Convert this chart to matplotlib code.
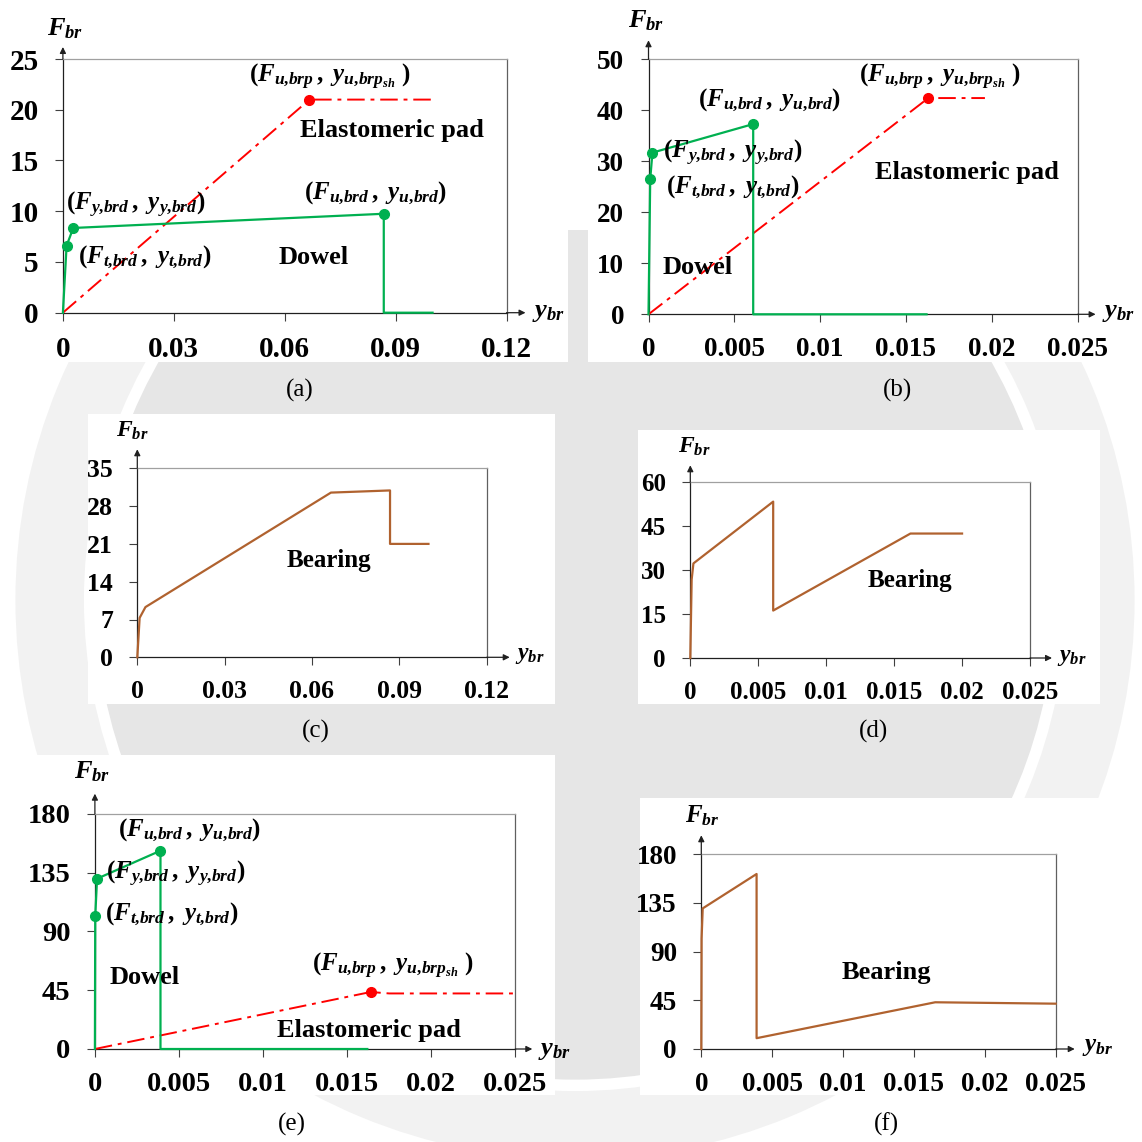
import matplotlib
matplotlib.use('Agg')
import matplotlib.pyplot as plt
from matplotlib.patches import Rectangle, Circle, Wedge
from matplotlib.transforms import offset_copy

plt.rcParams['font.family'] = 'Liberation Serif'
plt.rcParams['font.weight'] = 'bold'
plt.rcParams['mathtext.fontset'] = 'custom'
plt.rcParams['mathtext.rm'] = 'Liberation Serif:bold'
plt.rcParams['mathtext.it'] = 'Liberation Serif:italic:bold'
plt.rcParams['mathtext.bf'] = 'Liberation Serif:bold'

# ---- data ----
# (a) dowel / pad, (c) bearing = sum
dowel_a_x = [0, 0.001, 0.0028, 0.0868, 0.0868, 0.1]
dowel_a_y = [0, 6.6, 8.35, 9.75, 0, 0]
pad_a_x = [0, 0.0667, 0.1]
pad_a_y = [0, 21, 21]
bear_c_x = [0, 0.0008, 0.0028, 0.0665, 0.0868, 0.0868, 0.1]
bear_c_y = [0, 7.3, 9.3, 30.5, 30.9, 21, 21]

# (b) dowel / pad, (d) bearing
dowel_b_x = [0, 0.0001, 0.00023, 0.0061, 0.0061, 0.0162]
dowel_b_y = [0, 26.5, 31.7, 37.3, 0, 0]
pad_b_x = [0, 0.0163, 0.0196]
pad_b_y = [0, 42.4, 42.4]
bear_d_x = [0, 0.0001, 0.00023, 0.0061, 0.0061, 0.0162, 0.02]
bear_d_y = [0, 26.8, 32.3, 53.4, 16.2, 42.5, 42.5]

# (e) dowel / pad, (f) bearing
dowel_e_x = [0, 0.00002, 0.00013, 0.0039, 0.0039, 0.0162]
dowel_e_y = [0, 101.8, 130.3, 151.7, 0, 0]
pad_e_x = [0, 0.0164, 0.0175, 0.025]
pad_e_y = [0, 43.6, 42.5, 42.5]
bear_f_x = [0, 0.00002, 0.0001, 0.0039, 0.0039, 0.0165, 0.025]
bear_f_y = [0, 102, 130, 161.8, 10, 43.2, 41.9]

x_ticks_big = [0, 0.03, 0.06, 0.09, 0.12]
x_labels_big = ['0', '0.03', '0.06', '0.09', '0.12']
x_ticks_small = [0, 0.005, 0.01, 0.015, 0.02, 0.025]
x_labels_small = ['0', '0.005', '0.01', '0.015', '0.02', '0.025']

GREEN = '#00b050'
RED = '#ff0000'
BROWN = '#b0622f'
W = 1142


def fx(x):
    return x / W


def fy(y):
    return 1 - y / W


fig = plt.figure(figsize=(11.42, 11.42), dpi=100)
fig.patch.set_facecolor('white')

# faint watermark behind the panels
fig.patches.append(Wedge((fx(575), fy(600)), 0.49, 0, 360, width=0.06,
                         transform=fig.transFigure, facecolor='#f2f2f2',
                         edgecolor='none', zorder=-3))
fig.patches.append(Circle((fx(575), fy(600)), 0.42, transform=fig.transFigure,
                          facecolor='#e6e6e6', edgecolor='none', zorder=-3))
for l, t, r, b in [(0, 0, 568, 362), (588, 0, 1142, 362), (560, 0, 592, 230),
                   (88, 414, 555, 704), (638, 430, 1100, 704), (0, 755, 555, 1095),
                   (640, 798, 1112, 1095)]:
    fig.patches.append(Rectangle((fx(l), fy(b)), (r - l) / W, (b - t) / W,
                                 transform=fig.transFigure, facecolor='white',
                                 edgecolor='none', zorder=-2))


def make_axes(rect, xlim, ylim, xt, xl, yt, fs, up, right):
    l, t, r, b = rect
    ax = fig.add_axes([fx(l), fy(b), (r - l) / W, (b - t) / W])
    ax.set_facecolor('white')
    ax.set_xlim(*xlim)
    ax.set_ylim(*ylim)
    ax.set_xticks(xt)
    ax.set_xticklabels(xl, fontsize=fs, fontweight='bold')
    ax.set_yticks(yt)
    ax.set_yticklabels([str(v) for v in yt], fontsize=fs, fontweight='bold')
    ax.tick_params(direction='out', length=5.5, width=0.8, color='#404040')
    ax.tick_params(axis='y', pad=12)
    ax.tick_params(axis='x', pad=11)
    ax.spines['left'].set_color('#202020')
    ax.spines['bottom'].set_color('#202020')
    ax.spines['top'].set_color('#a0a0a0')
    ax.spines['right'].set_color('#606060')
    for s in ax.spines.values():
        s.set_linewidth(0.9)
    # axis arrows
    ax.annotate('', xy=(0, 1), xycoords=offset_copy(ax.transAxes, fig=fig, y=up, units='dots'),
                xytext=(0, 1), textcoords='axes fraction',
                arrowprops=dict(arrowstyle='-|>', color='#202020', lw=0.9,
                                mutation_scale=9, shrinkA=0, shrinkB=0))
    ax.annotate('', xy=(1, 0), xycoords=offset_copy(ax.transAxes, fig=fig, x=right, units='dots'),
                xytext=(1, 0), textcoords='axes fraction',
                arrowprops=dict(arrowstyle='-|>', color='#202020', lw=0.9,
                                mutation_scale=9, shrinkA=0, shrinkB=0))
    return ax


def ptext(x, y, s, size, weight='bold', **kw):
    kw.setdefault('ha', 'center')
    kw.setdefault('va', 'center')
    fig.text(fx(x), fy(y), s, fontsize=size, fontweight=weight, **kw)


def axis_names(fxy, yxy, size):
    ptext(fxy[0], fxy[1], r'$F_{br}$', size, ha='left', va='baseline')
    ptext(yxy[0], yxy[1], r'$y_{br}$', size, ha='left', va='center')


pad_ls = (0, (9, 3, 2, 3))
lab_u_brp = r'$(F_{u{,}brp}\,,\ y_{u{,}brp_{sh}}\ )$'
lab_u_brd = r'$(F_{u{,}brd}\,,\ y_{u{,}brd})$'
lab_y_brd = r'$(F_{y{,}brd}\,,\ y_{y{,}brd})$'
lab_t_brd = r'$(F_{t{,}brd}\,,\ y_{t{,}brd})$'


def draw_dowel(ax, x, y):
    ax.plot(x, y, color=GREEN, lw=1.6, clip_on=False, zorder=3)
    ax.plot(x[1:4], y[1:4], 'o', color=GREEN, ms=7, clip_on=False, zorder=4)


def draw_pad(ax, x, y):
    ax.plot(x, y, color=RED, lw=1.4, ls=pad_ls, clip_on=False, zorder=3)
    ax.plot(x[1], y[1], 'o', color=RED, ms=7, clip_on=False, zorder=4)


def draw_bearing(ax, x, y):
    ax.plot(x, y, color=BROWN, lw=1.6, clip_on=False, zorder=3)


# (a)
ax = make_axes((62.9, 59, 506.5, 312.7), (0, 0.12), (0, 25), x_ticks_big, x_labels_big,
               [0, 5, 10, 15, 20, 25], 21, 12, 19)
draw_pad(ax, pad_a_x, pad_a_y)
draw_dowel(ax, dowel_a_x, dowel_a_y)
axis_names((47, 35), (532, 313), 19)
ptext(330, 77, lab_u_brp, 18)
ptext(392, 130, 'Elastomeric pad', 19)
ptext(376, 193, lab_u_brd, 18)
ptext(136, 205, lab_y_brd, 18)
ptext(145, 257, lab_t_brd, 18)
ptext(314, 257, 'Dowel', 19)
ptext(300, 390, '(a)', 18, weight='normal')

# (b)
ax = make_axes((648.5, 59.3, 1077.6, 314.3), (0, 0.025), (0, 50), x_ticks_small, x_labels_small,
               [0, 10, 20, 30, 40, 50], 19.5, 19, 18)
draw_pad(ax, pad_b_x, pad_b_y)
draw_dowel(ax, dowel_b_x, dowel_b_y)
axis_names((628, 27), (1102, 313), 19)
ptext(940, 77, lab_u_brp, 18)
ptext(770, 100, lab_u_brd, 18)
ptext(733, 153, lab_y_brd, 18)
ptext(733, 187, lab_t_brd, 18)
ptext(967, 172, 'Elastomeric pad', 19)
ptext(698, 267, 'Dowel', 19)
ptext(897, 390, '(b)', 18, weight='normal')

# (c)
ax = make_axes((137.3, 468.3, 486.7, 657.3), (0, 0.12), (0, 35), x_ticks_big, x_labels_big,
               [0, 7, 14, 21, 28, 35], 18.5, 19, 23)
draw_bearing(ax, bear_c_x, bear_c_y)
axis_names((116, 437), (515, 656), 17)
ptext(329, 561, 'Bearing', 18)
ptext(316, 731, '(c)', 18, weight='normal')

# (d)
ax = make_axes((690.3, 482.3, 1030, 658), (0, 0.025), (0, 60), x_ticks_small, x_labels_small,
               [0, 15, 30, 45, 60], 18, 17, 22)
draw_bearing(ax, bear_d_x, bear_d_y)
axis_names((678, 453), (1057, 658), 17)
ptext(910, 581, 'Bearing', 18)
ptext(874, 731, '(d)', 18, weight='normal')

# (e)
ax = make_axes((94.9, 813.7, 515.3, 1049), (0, 0.025), (0, 180), x_ticks_small, x_labels_small,
               [0, 45, 90, 135, 180], 20.5, 20, 17)
draw_pad(ax, pad_e_x, pad_e_y)
draw_dowel(ax, dowel_e_x, dowel_e_y)
axis_names((74, 778), (538, 1050), 19)
ptext(190, 830, lab_u_brd, 18)
ptext(176, 874, lab_y_brd, 18)
ptext(172, 914, lab_t_brd, 18)
ptext(145, 977, 'Dowel', 19)
ptext(393, 966, lab_u_brp, 18)
ptext(369, 1031, 'Elastomeric pad', 19)
ptext(292, 1124, '(e)', 18, weight='normal')

# (f)
ax = make_axes((701.3, 854.3, 1055.7, 1049), (0, 0.025), (0, 180), x_ticks_small, x_labels_small,
               [0, 45, 90, 135, 180], 19.5, 19, 19)
draw_bearing(ax, bear_f_x, bear_f_y)
axis_names((685, 822), (1082, 1047), 18)
ptext(886, 972, 'Bearing', 19)
ptext(886, 1124, '(f)', 18, weight='normal')

fig.savefig('out.png', dpi=100, facecolor='white')
